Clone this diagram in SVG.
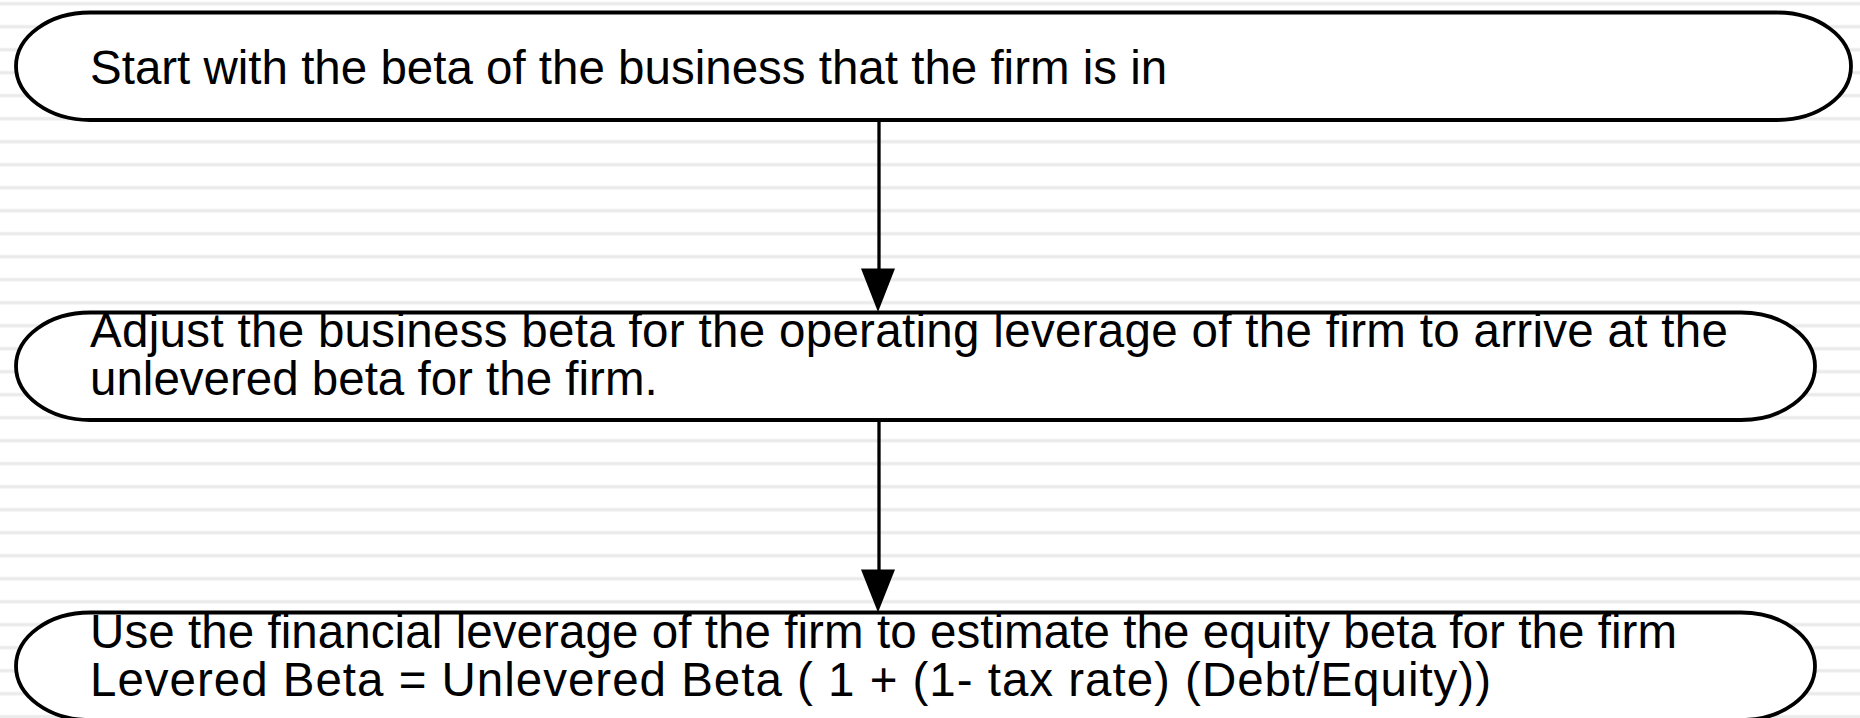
<svg xmlns="http://www.w3.org/2000/svg" xmlns:xlink="http://www.w3.org/1999/xlink" width="1860" height="718" viewBox="0 0 1860 718">
  <style>
    .box { fill: #ffffff; stroke: none; }
    .outline { fill: none; stroke: #000000; stroke-width: 3.8; }
    .label { font-family: "Liberation Sans", Arial, Helvetica, sans-serif; font-size: 47.5px; fill: #000000; }
    .link { stroke: #000000; stroke-width: 3.3; fill: none; }
    .head { fill: #000000; stroke: none; }
  </style>
  <defs>
    <!-- horizontal pinstripe background -->
    <pattern id="stripes" x="0" y="0" width="40" height="23" patternUnits="userSpaceOnUse">
      <rect x="0" y="1.7" width="40" height="4" fill="#f2f2f2"/>
      <rect x="0" y="2.7" width="40" height="2" fill="#eaeaea"/>
    </pattern>
    <!-- pill-shaped step outlines -->
    <path id="pill1" d="M 90,12.5 H 1777 A 74 53.75 0 0 1 1777,120 H 90 A 74 53.75 0 0 1 90,12.5 Z"/>
    <path id="pill2" d="M 90,312.5 H 1741 A 74 53.75 0 0 1 1741,420 H 90 A 74 53.75 0 0 1 90,312.5 Z"/>
    <path id="pill3" d="M 90,612.5 H 1741 A 74 53.75 0 0 1 1741,720 H 90 A 74 53.75 0 0 1 90,612.5 Z"/>
  </defs>

  <rect x="0" y="0" width="1860" height="718" fill="#ffffff"/>
  <rect x="0" y="0" width="1860" height="718" fill="url(#stripes)"/>

  <g id="connectors">
    <line class="link" x1="879" y1="120" x2="879" y2="270"/>
    <polygon class="head" points="861,268.5 895,268.5 878,312"/>
    <line class="link" x1="879" y1="420" x2="879" y2="570"/>
    <polygon class="head" points="861,569.5 895,569.5 878,612.5"/>
  </g>

  <g id="step-business-beta">
    <use xlink:href="#pill1" class="box"/>
    <text class="label" x="90" y="84">Start with the beta of the business that the firm is in</text>
    <use xlink:href="#pill1" class="outline"/>
  </g>

  <g id="step-unlevered-beta">
    <use xlink:href="#pill2" class="box"/>
    <text class="label" x="90" y="347" textLength="1638" lengthAdjust="spacing">Adjust the business beta for the operating leverage of the firm to arrive at the</text>
    <text class="label" x="90" y="395">unlevered beta for the firm.</text>
    <use xlink:href="#pill2" class="outline"/>
  </g>

  <g id="step-levered-beta">
    <use xlink:href="#pill3" class="box"/>
    <text class="label" x="90" y="648" textLength="1587" lengthAdjust="spacing">Use the financial leverage of the firm to estimate the equity beta for the firm</text>
    <text class="label" x="90" y="696" textLength="1401" lengthAdjust="spacing">Levered Beta = Unlevered Beta ( 1 + (1- tax rate) (Debt/Equity))</text>
    <use xlink:href="#pill3" class="outline"/>
  </g>
</svg>
